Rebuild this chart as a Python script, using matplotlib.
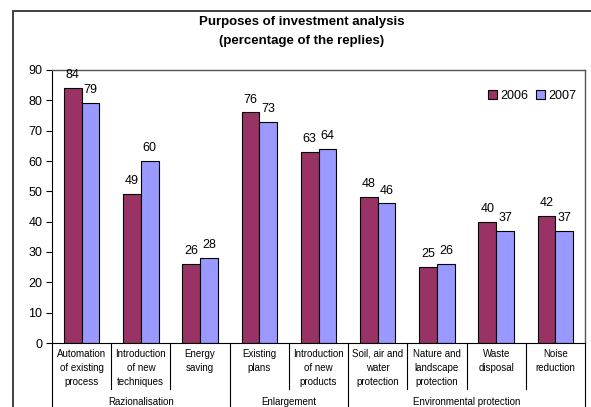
import matplotlib
matplotlib.use("Agg")
import matplotlib.pyplot as plt
import matplotlib.transforms as mtransforms
from matplotlib.lines import Line2D
from matplotlib.patches import Rectangle
import numpy as np

plt.rcParams['font.family'] = ['Liberation Sans', 'DejaVu Sans']

categories = ["Automation\nof existing\nprocess", "Introduction\nof new\ntechniques", "Energy\nsaving",
              "Existing\nplans", "Introduction\nof new\nproducts", "Soil, air and\nwater\nprotection",
              "Nature and\nlandscape\nprotection", "Waste\ndisposal", "Noise\nreduction"]
groups = ["Razionalisation", "Enlargement", "Environmental protection"]
group_sizes = [3, 2, 4]
series_names = ["2006", "2007"]
values_2006 = [84, 49, 26, 76, 63, 48, 25, 40, 42]
values_2007 = [79, 60, 28, 73, 64, 46, 26, 37, 37]
yticks = [0, 10, 20, 30, 40, 50, 60, 70, 80, 90]

W, H = 591, 407
fig = plt.figure(figsize=(W / 100, H / 100), dpi=100)
L, R, T, B = 52, 585, 70, 343
ax = fig.add_axes([L / W, 1 - B / H, (R - L) / W, (B - T) / H])

n = len(categories)
x = np.arange(n)
bw = 0.3
c1, c2 = '#993366', '#9999FF'
b1 = ax.bar(x - bw / 2, values_2006, bw, color=c1, edgecolor='black', linewidth=0.8, label=series_names[0])
b2 = ax.bar(x + bw / 2, values_2007, bw, color=c2, edgecolor='black', linewidth=0.8, label=series_names[1])
for bars, vals in ((b1, values_2006), (b2, values_2007)):
    for rect, v in zip(bars, vals):
        ax.annotate(str(v), (rect.get_x() + rect.get_width() / 2, v), xytext=(0, 5),
                    textcoords='offset points', ha='center', va='bottom', fontsize=9)

ax.set_xlim(-0.5, n - 0.5)
ax.set_ylim(0, 90)
ax.set_yticks(yticks)
ax.tick_params(axis='y', labelsize=9, length=4, width=0.8, direction='out', pad=3)
ax.set_xticks([])
for s in ('top', 'right'):
    ax.spines[s].set_color('#555555')
    ax.spines[s].set_linewidth(1.0)
ax.spines['left'].set_linewidth(0.8)
ax.spines['bottom'].set_linewidth(0.8)

# Category labels and separators
trans = mtransforms.blended_transform_factory(ax.transData, ax.transAxes)
ph = B - T
for i, c in enumerate(categories):
    ax.text(i, -6 / ph, c, transform=trans, ha='center', va='top', fontsize=7, linespacing=1.5)

bounds = np.cumsum([0] + group_sizes)
group_edges = set(bounds.tolist())
for k in range(n + 1):
    xb = k - 0.5
    yend = -46 / ph if k not in group_edges else -64 / ph
    ax.add_line(Line2D([xb, xb], [0, yend], transform=trans, color='black', linewidth=0.8, clip_on=False))
for g, name in enumerate(groups):
    xc = (bounds[g] + bounds[g + 1]) / 2 - 0.5
    ax.text(xc, -59 / ph, name, transform=trans, ha='center', va='center', fontsize=7)

# Title
fig.text(302 / W, 1 - 22 / H, "Purposes of investment analysis", ha='center', va='center',
         fontsize=9.5, fontweight='bold')
fig.text(302 / W, 1 - 41 / H, "(percentage of the replies)", ha='center', va='center',
         fontsize=9.5, fontweight='bold')

# Legend
ax.legend(loc='center left', bbox_to_anchor=(482 / W, 1 - 96 / H), bbox_transform=fig.transFigure,
          ncol=2, frameon=False, fontsize=9, handlelength=0.7, handleheight=0.7,
          handletextpad=0.3, columnspacing=0.6, borderpad=0)

# Outer frame
fig.add_artist(Rectangle((12.5 / W, -0.05), 1.0, 1 - 11 / H + 0.05, transform=fig.transFigure,
                         fill=False, edgecolor='#333333', linewidth=1.3))

fig.savefig("out.png", dpi=100)
